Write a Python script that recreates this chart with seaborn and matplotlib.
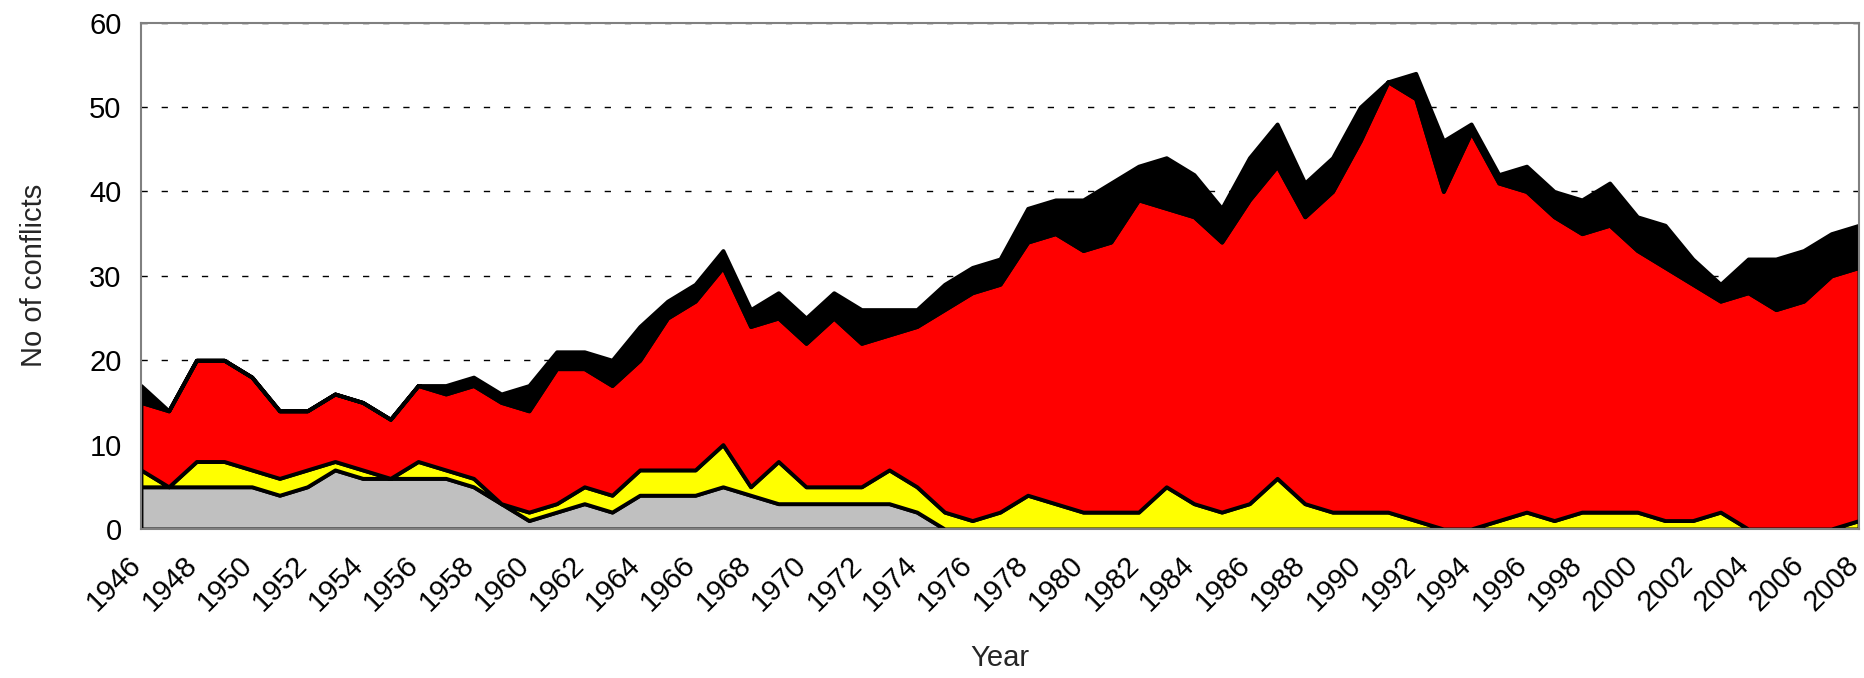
import matplotlib
matplotlib.use("Agg")
import matplotlib.pyplot as plt
from matplotlib.transforms import ScaledTranslation
import seaborn as sns

# Years on the x axis
years = list(range(1946, 2009))

# Number of conflicts per type (stacked bottom to top)
gray = [5, 5, 5, 5, 5, 4, 5, 7, 6, 6, 6, 6, 5, 3, 1, 2, 3, 2, 4, 4, 4, 5, 4, 3, 3, 3, 3, 3, 2, 0,
        0, 0, 0, 0, 0, 0, 0, 0, 0, 0, 0, 0, 0, 0, 0, 0, 0, 0, 0, 0, 0, 0, 0, 0, 0, 0, 0, 0, 0, 0,
        0, 0, 0]
yellow = [2, 0, 3, 3, 2, 2, 2, 1, 1, 0, 2, 1, 1, 0, 1, 1, 2, 2, 3, 3, 3, 5, 1, 5, 2, 2, 2, 4, 3, 2,
          1, 2, 4, 3, 2, 2, 2, 5, 3, 2, 3, 6, 3, 2, 2, 2, 1, 0, 0, 1, 2, 1, 2, 2, 2, 1, 1, 2, 0, 0,
          0, 0, 1]
red = [8, 9, 12, 12, 11, 8, 7, 8, 8, 7, 9, 9, 11, 12, 12, 16, 14, 13, 13, 18, 20, 21, 19, 17, 17, 20, 17, 16, 19, 24,
       27, 27, 30, 32, 31, 32, 37, 33, 34, 32, 36, 37, 34, 38, 44, 51, 50, 40, 47, 40, 38, 36, 33, 34, 31, 30, 28, 25, 28, 26,
       27, 30, 30]
black = [2, 0, 0, 0, 0, 0, 0, 0, 0, 0, 0, 1, 1, 1, 3, 2, 2, 3, 4, 2, 2, 2, 2, 3, 3, 3, 4, 3, 2, 3,
         3, 3, 4, 4, 6, 7, 4, 6, 5, 4, 5, 5, 4, 4, 4, 0, 3, 6, 1, 1, 3, 3, 4, 5, 4, 5, 3, 2, 4, 6,
         6, 5, 5]

sns.set_style("white")
plt.rcParams["font.family"] = ["Liberation Sans", "DejaVu Sans"]

fig = plt.figure(figsize=(18.65, 6.78), dpi=100)
ax = fig.add_axes([0.0756, 0.2198, 0.9212, 0.7467])

# dashed gridlines behind the areas
ax.set_axisbelow(True)
ax.yaxis.grid(True, color="black", linewidth=1.0, linestyle=(0, (4.5, 10)))
ax.xaxis.grid(False)

ax.stackplot(years, gray, yellow, red, black,
             colors=["#C0C0C0", "#FFFF00", "#FF0000", "#000000"],
             edgecolor="black", linewidth=2.8, zorder=2)

ax.set_xlim(1946, 2008)
ax.set_ylim(0, 60)

ax.set_yticks(range(0, 61, 10))
ax.set_xticks(years)
ax.set_xticklabels([str(y) if y % 2 == 0 else "" for y in years],
                   rotation=45, ha="right", va="center", rotation_mode="anchor")

ax.tick_params(axis="both", direction="out", length=6, width=1.2, color="#808080",
               labelsize=21, labelcolor="black")
ax.tick_params(axis="y", pad=8)
ax.tick_params(axis="x", pad=17)

# shift the rotated year labels a little to the left, like the original
shift = ScaledTranslation(-0.04, 0, fig.dpi_scale_trans)
for lab in ax.get_xticklabels():
    lab.set_transform(lab.get_transform() + shift)

for side in ["left", "bottom", "top", "right"]:
    ax.spines[side].set_visible(True)
    ax.spines[side].set_color("#808080")
    ax.spines[side].set_linewidth(1.5)

ax.set_xlabel("Year", fontsize=21, labelpad=20)
ax.set_ylabel("No of conflicts", fontsize=21, labelpad=30)

fig.savefig("out.png", dpi=100)
